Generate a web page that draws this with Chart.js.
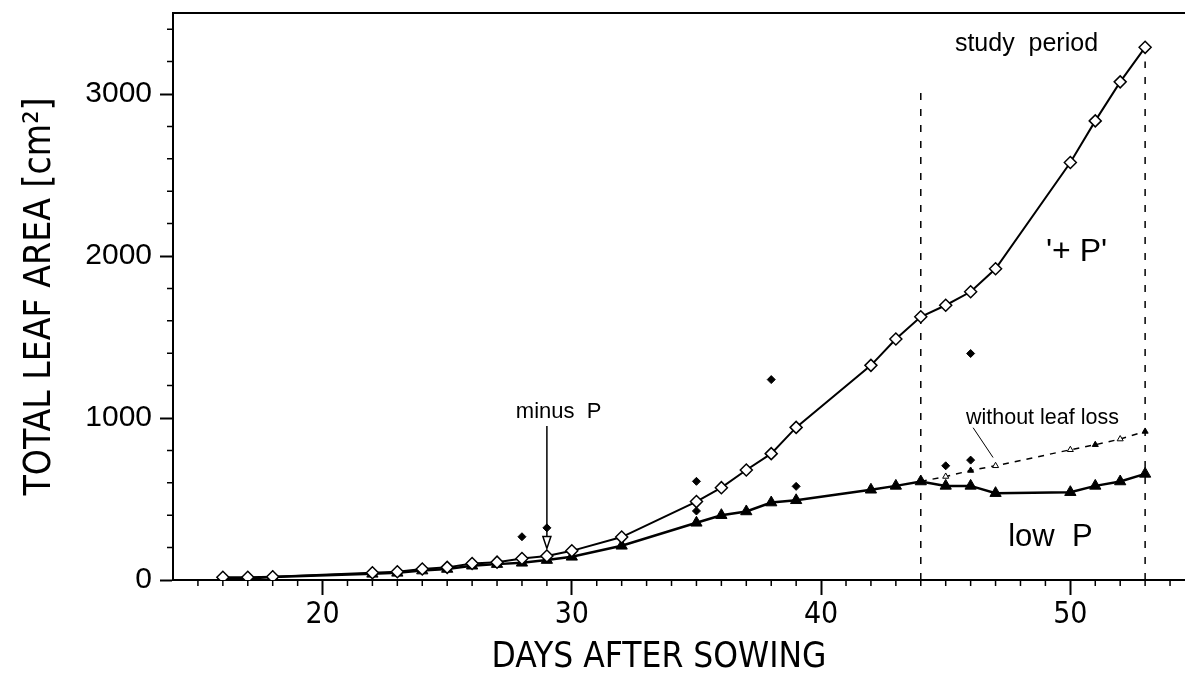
<!DOCTYPE html>
<html>
<head>
<meta charset="utf-8">
<script src="https://cdn.jsdelivr.net/npm/chart.js@4/dist/chart.umd.min.js"></script>
<style>
  html, body { margin: 0; padding: 0; background: #fff; }
  #wrap { width: 1185px; height: 691px; }
</style>
</head>
<body>
<div id="wrap"><canvas id="leaf-area-chart"></canvas></div>
<script>
// '+ P' plants (open diamonds)
const plusDays = [16, 17, 18, 22, 23, 24, 25, 26, 27, 28, 29, 30, 32, 35, 36, 37, 38, 39, 42, 43, 44, 45, 46, 47, 50, 51, 52, 53];
const plusArea = [17, 17, 20, 45, 51, 68, 78, 102, 110, 133, 148, 180, 265, 484, 570, 679, 780, 942, 1325, 1488, 1625, 1696, 1779, 1921, 2577, 2834, 3075, 3288];

// low P plants (filled triangles)
const lowDays = [16, 17, 18, 22, 23, 24, 25, 26, 27, 28, 29, 30, 32, 35, 36, 37, 38, 39, 42, 43, 44, 45, 46, 47, 50, 51, 52, 53];
const lowArea = [10, 10, 18, 38, 44, 58, 68, 88, 98, 106, 123, 143, 211, 353, 400, 423, 478, 492, 557, 581, 608, 581, 581, 536, 542, 581, 608, 655];

// low P, without leaf loss (dashed)
const noLossDays = [44, 45, 46, 47, 50, 51, 52, 53];
const noLossArea = [608, 639, 676, 705, 804, 835, 870, 917];
const noLossFilled = [true, false, true, false, false, true, false, true];

// single plants (small filled diamonds)
const singleDays = [28, 29, 35, 35, 38, 39, 45, 46, 46];
const singleArea = [267, 322, 609, 426, 1237, 578, 705, 740, 1398];

// study period limits
const periodDays = [44, 53];
const periodTops = [3040, 3200];

const xTicks = [20, 30, 40, 50];
const yTicks = [0, 1000, 2000, 3000];

const narrow = "'Liberation Sans Narrow', 'DejaVu Sans Condensed', 'Liberation Sans', sans-serif";
const sans = "'Liberation Sans', Arial, sans-serif";

function pts(xs, ys) {
    return xs.map((x, i) => ({ x: x, y: ys[i] }));
}

const extras = {
    id: 'extras',
    afterDraw(chart) {
        const { ctx, chartArea: area, scales: { x, y } } = chart;
        ctx.save();
        ctx.strokeStyle = '#000';
        ctx.fillStyle = '#000';

        // top frame line
        ctx.lineWidth = 2;
        ctx.beginPath();
        ctx.moveTo(area.left, area.top);
        ctx.lineTo(area.right, area.top);
        ctx.stroke();

        // minor ticks
        ctx.lineWidth = 1.5;
        ctx.beginPath();
        for (let d = 15; d <= 54; d++) {
            if (d % 10 === 0) continue;
            const px = x.getPixelForValue(d);
            ctx.moveTo(px, area.bottom);
            ctx.lineTo(px, area.bottom + 6);
        }
        for (let v = 200; v <= 3400; v += 200) {
            if (v % 1000 === 0) continue;
            const py = y.getPixelForValue(v);
            ctx.moveTo(area.left, py);
            ctx.lineTo(area.left - 6, py);
        }
        ctx.stroke();

        // minus P arrow
        const ax = x.getPixelForValue(29);
        const aTop = y.getPixelForValue(950);
        const aTip = y.getPixelForValue(195);
        ctx.lineWidth = 1.5;
        ctx.beginPath();
        ctx.moveTo(ax, aTop);
        ctx.lineTo(ax, aTip - 12);
        ctx.stroke();
        ctx.beginPath();
        ctx.moveTo(ax - 4, aTip - 12);
        ctx.lineTo(ax + 4, aTip - 12);
        ctx.lineTo(ax, aTip);
        ctx.closePath();
        ctx.fillStyle = '#fff';
        ctx.fill();
        ctx.stroke();
        ctx.fillStyle = '#000';

        // leader line for "without leaf loss"
        ctx.lineWidth = 1;
        ctx.beginPath();
        ctx.moveTo(x.getPixelForValue(46.1), y.getPixelForValue(940));
        ctx.lineTo(x.getPixelForValue(46.9), y.getPixelForValue(756));
        ctx.stroke();

        // labels
        ctx.textAlign = 'center';
        ctx.textBaseline = 'middle';
        const label = (text, dx, vy, size) => {
            ctx.font = size + 'px ' + sans;
            ctx.fillText(text, x.getPixelForValue(dx), y.getPixelForValue(vy));
        };
        label('minus  P', 29.47, 1040, 22);
        label('study  period', 48.24, 3310, 25);
        label("'+ P'", 50.25, 2022, 32);
        label('without leaf loss', 48.88, 1002, 21.5);
        label('low  P', 49.2, 260, 31);
        ctx.restore();
    }
};

const ctx = document.getElementById('leaf-area-chart').getContext('2d');

new Chart(ctx, {
    type: 'line',
    data: {
        datasets: [
            {
                label: "'+ P'",
                data: pts(plusDays, plusArea),
                borderColor: '#000',
                borderWidth: 2,
                pointStyle: 'rectRot',
                pointRadius: 6,
                pointBackgroundColor: '#fff',
                pointBorderColor: '#000',
                pointBorderWidth: 1.5
            },
            {
                label: 'low P',
                data: pts(lowDays, lowArea),
                borderColor: '#000',
                borderWidth: 2.5,
                pointStyle: 'triangle',
                pointRadius: 6.5,
                pointBackgroundColor: '#000',
                pointBorderColor: '#000',
                pointBorderWidth: 1
            },
            {
                label: 'without leaf loss',
                data: pts(noLossDays, noLossArea),
                borderColor: '#000',
                borderWidth: 1.5,
                borderDash: [6, 6],
                pointStyle: 'triangle',
                pointRadius: noLossDays.map((d, i) => i === 0 ? 0 : 3.5),
                pointBackgroundColor: noLossFilled.map(f => f ? '#000' : '#fff'),
                pointBorderColor: '#000',
                pointBorderWidth: 1
            },
            {
                label: 'single plants',
                data: pts(singleDays, singleArea),
                showLine: false,
                pointStyle: 'rectRot',
                pointRadius: 4,
                pointBackgroundColor: '#000',
                pointBorderColor: '#000',
                pointBorderWidth: 1
            },
            {
                label: 'start',
                data: [{ x: periodDays[0], y: 0 }, { x: periodDays[0], y: periodTops[0] }],
                borderColor: '#000',
                borderWidth: 1.5,
                borderDash: [7, 9],
                pointRadius: 0
            },
            {
                label: 'end',
                data: [{ x: periodDays[1], y: 0 }, { x: periodDays[1], y: periodTops[1] }],
                borderColor: '#000',
                borderWidth: 1.5,
                borderDash: [7, 9],
                pointRadius: 0
            }
        ]
    },
    options: {
        responsive: true,
        maintainAspectRatio: false,
        animation: false,
        devicePixelRatio: 1,
        layout: { autoPadding: false, padding: { top: 13, right: 0, left: 0, bottom: 0 } },
        plugins: {
            legend: { display: false },
            tooltip: { enabled: false }
        },
        scales: {
            x: {
                type: 'linear',
                min: 14,
                max: 54.6,
                afterBuildTicks: s => { s.ticks = xTicks.map(v => ({ value: v })); },
                afterFit: s => { s.height = 111; s.paddingLeft = 0; s.paddingRight = 0; },
                border: { display: true, color: '#000', width: 2 },
                grid: { drawOnChartArea: false, tickLength: 15, tickColor: '#000', tickWidth: 2 },
                ticks: { color: '#000', padding: 2, font: { family: narrow, size: 30 } },
                title: {
                    display: true,
                    text: 'DAYS AFTER SOWING    ',
                    color: '#000',
                    font: { family: narrow, size: 35 },
                    padding: { top: 0, bottom: 12 }
                }
            },
            y: {
                min: 0,
                max: 3500,
                afterBuildTicks: s => { s.ticks = yTicks.map(v => ({ value: v })); },
                afterFit: s => { s.width = 173; s.paddingTop = 0; s.paddingBottom = 0; },
                border: { display: true, color: '#000', width: 2 },
                grid: { drawOnChartArea: false, tickLength: 13, tickColor: '#000', tickWidth: 2 },
                ticks: {
                    color: '#000',
                    padding: 8,
                    font: { family: sans, size: 30 },
                    callback: v => String(v)
                },
                title: {
                    display: true,
                    text: 'TOTAL LEAF AREA [cm²]',
                    color: '#000',
                    font: { family: narrow, size: 37 },
                    padding: { top: 18, bottom: 0 }
                }
            }
        }
    },
    plugins: [extras]
});
</script>
</body>
</html>
